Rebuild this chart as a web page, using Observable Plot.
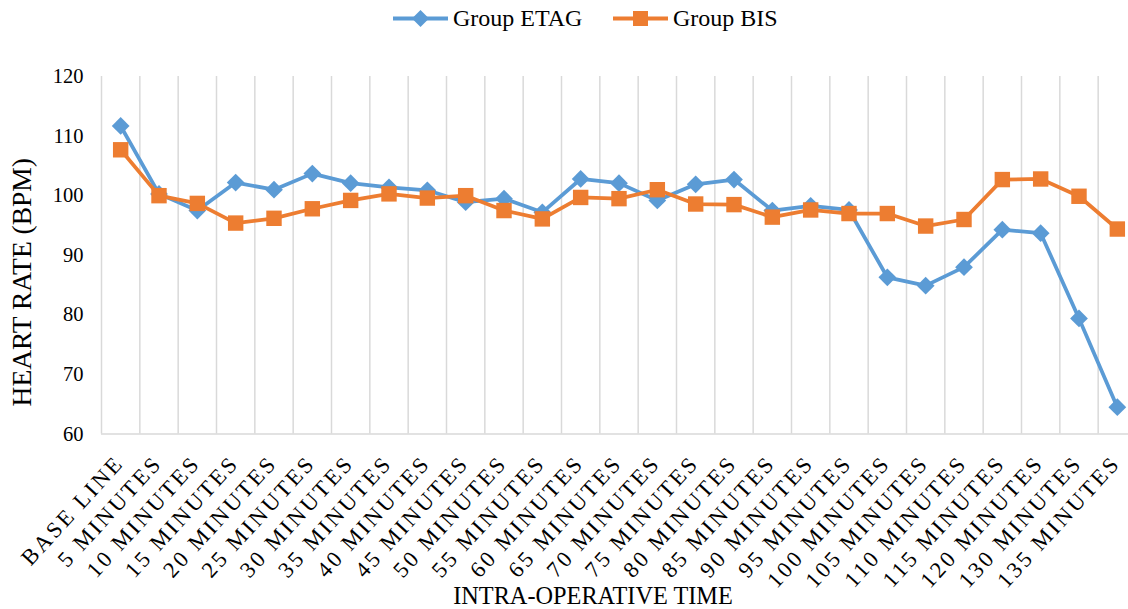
<!DOCTYPE html>
<html><head><meta charset="utf-8">
<script src="https://cdn.jsdelivr.net/npm/d3@7"></script>
<script src="https://cdn.jsdelivr.net/npm/@observablehq/plot@0.6"></script>
<style>
body{margin:0;background:#fff;width:1128px;height:609px;overflow:hidden;font-family:"Liberation Serif","Times New Roman",serif;}
#legend{position:relative;height:40px;width:1128px;}
.item{position:absolute;top:0;height:36px;display:flex;align-items:center;font-size:24px;color:#000;white-space:nowrap;}
.item svg{margin-right:5px;}
#chart svg{overflow:visible;}
g[aria-label="x-axis tick label"] text{letter-spacing:2.8px;}
</style></head><body>
<div id="legend"></div>
<div id="chart"></div>
<script>
const categories = ["BASE LINE","5 MINUTES","10 MINUTES","15 MINUTES","20 MINUTES","25 MINUTES","30 MINUTES","35 MINUTES","40 MINUTES","45 MINUTES","50 MINUTES","55 MINUTES","60 MINUTES","65 MINUTES","70 MINUTES","75 MINUTES","80 MINUTES","85 MINUTES","90 MINUTES","95 MINUTES","100 MINUTES","105 MINUTES","110 MINUTES","115 MINUTES","120 MINUTES","130 MINUTES","135 MINUTES"];
const etag = [111.7,100.3,97.5,102.2,101.0,103.7,102.1,101.4,100.9,98.9,99.5,97.2,102.8,102.1,99.2,101.9,102.7,97.5,98.3,97.6,86.3,84.9,88.0,94.3,93.7,79.4,64.5];
const bis = [107.7,100.0,98.7,95.4,96.2,97.8,99.2,100.3,99.6,100.0,97.5,96.1,99.7,99.5,101.0,98.6,98.5,96.4,97.6,97.0,97.0,94.9,96.0,102.7,102.8,99.9,94.4];
const yTicks = [60,70,80,90,100,110,120];
const seriesNames = ["Group ETAG","Group BIS"];
const colors = ["#5B9BD5","#ED7D31"];
const symbols = ["diamond2","square"];
const yTitle = "HEART RATE (BPM)";
const xTitle = "INTRA-OPERATIVE TIME";

const idx = d3.range(categories.length);
const rowsE = idx.map(i => ({i, v: etag[i]}));
const rowsB = idx.map(i => ({i, v: bis[i]}));

// legend
const legend = document.getElementById("legend");
const legendLeft = [393, 613];
seriesNames.forEach((name, k) => {
  const item = document.createElement("div");
  item.className = "item";
  item.style.left = legendLeft[k] + "px";
  const marker = k === 0
    ? `<polygon points="27.5,8 36,16.5 27.5,25 19,16.5" fill="${colors[k]}"/>`
    : `<rect x="20" y="9" width="15" height="15" fill="${colors[k]}"/>`;
  item.innerHTML = `<svg width="55" height="33"><line x1="0" x2="55" y1="16.5" y2="16.5" stroke="${colors[k]}" stroke-width="4"/>${marker}</svg><span>${name}</span>`;
  legend.appendChild(item);
});

const H = 569;
const chart = Plot.plot({
  width: 1128,
  height: H,
  marginTop: 36,
  marginBottom: 175.5,
  marginLeft: 101,
  marginRight: 0,
  style: {fontFamily: '"Liberation Serif","Times New Roman",serif', color: "#000", background: "#fff"},
  x: {domain: [-0.5, categories.length - 0.5], range: [101, 1136]},
  y: {domain: [60, 120]},
  marks: [
    Plot.ruleX(d3.range(categories.length + 1), {x: d => d - 0.5, stroke: "#d9d9d9", strokeWidth: 1.5}),
    Plot.ruleY([60], {stroke: "#d9d9d9", strokeWidth: 1.5}),
    Plot.axisY(yTicks, {tickSize: 0, tickPadding: 18, fontSize: 20.5, label: null}),
    Plot.axisX(idx, {tickFormat: i => categories[i], tickRotate: -47.5, tickSize: 0, tickPadding: 25, dx: -1, fontSize: 22.5, label: null}),
    Plot.line(rowsE, {x: "i", y: "v", stroke: colors[0], strokeWidth: 3.75}),
    Plot.dot(rowsE, {x: "i", y: "v", symbol: symbols[0], r: 8, fill: colors[0], stroke: "none"}),
    Plot.line(rowsB, {x: "i", y: "v", stroke: colors[1], strokeWidth: 3.75}),
    Plot.dot(rowsB, {x: "i", y: "v", symbol: symbols[1], r: 8.7, fill: colors[1], stroke: "none"}),
    Plot.text([yTitle], {frameAnchor: "left", textAnchor: "middle", rotate: -90, dx: -79, dy: 27, fontSize: 27.5, fill: "#000"}),
    Plot.text([xTitle], {frameAnchor: "bottom", dx: -22, dy: 162, fontSize: 24.3, fill: "#000", lineAnchor: "middle"})
  ]
});
document.getElementById("chart").appendChild(chart);
</script>
</body></html>
